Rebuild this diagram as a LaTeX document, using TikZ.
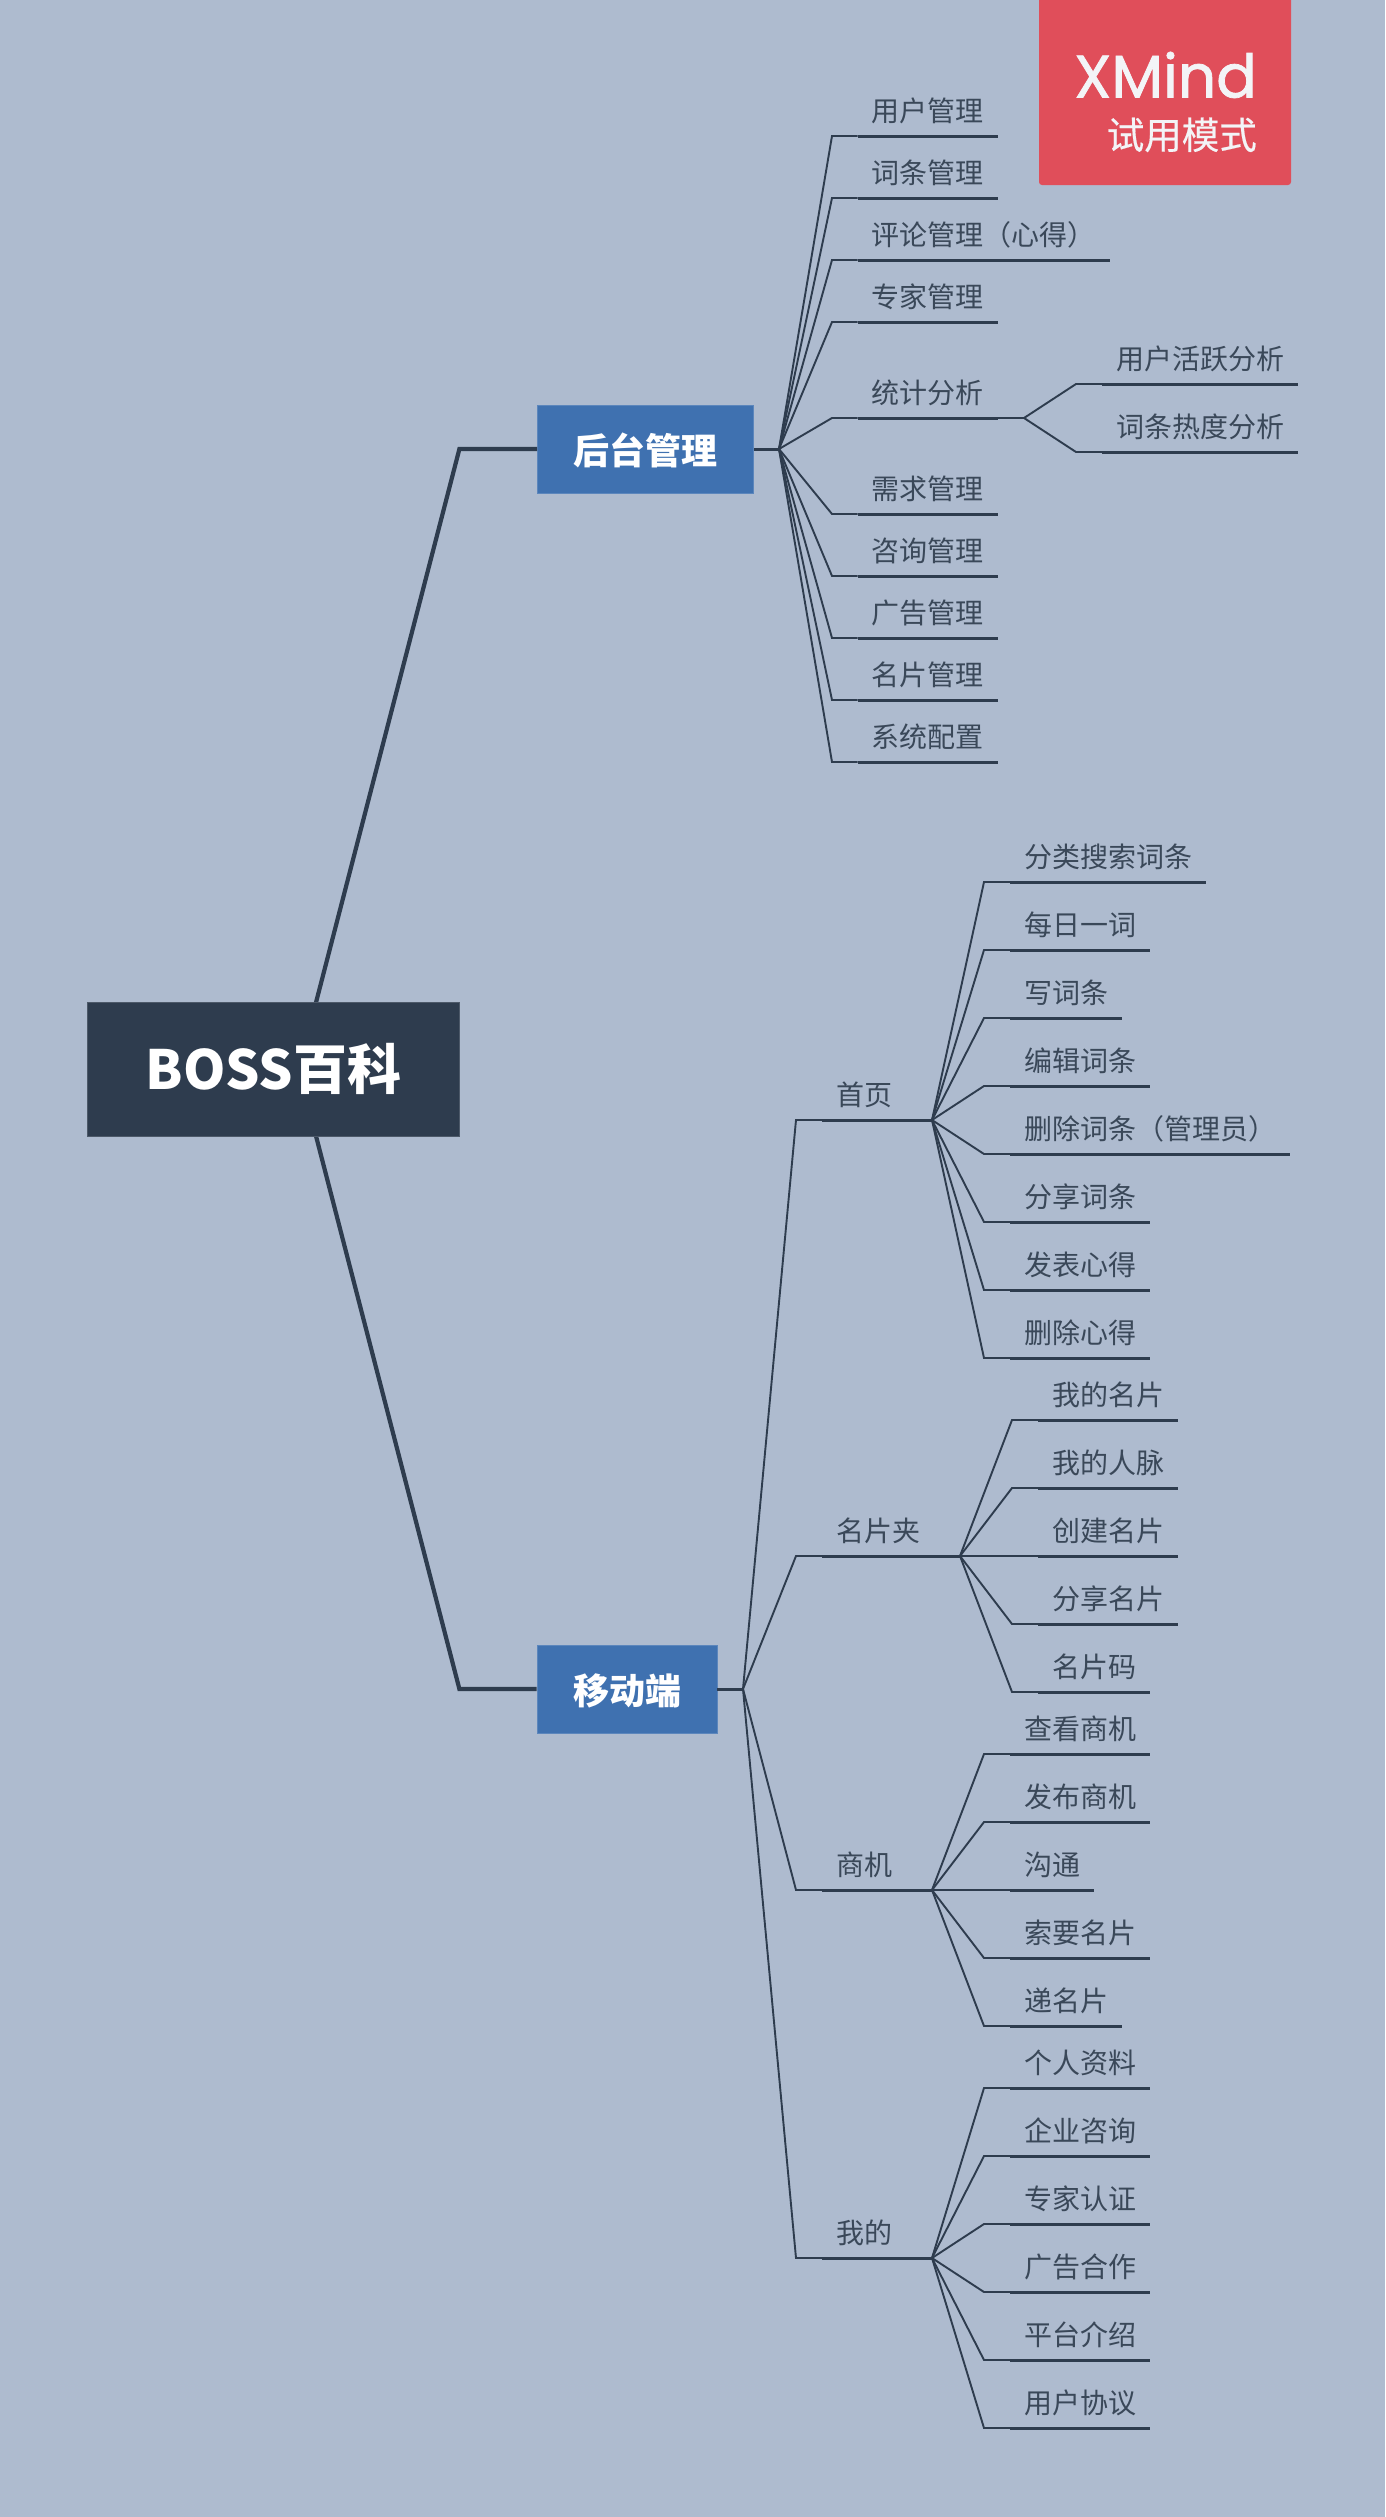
\documentclass[tikz,border=0pt]{standalone}
\usepackage{fontspec}
\setmainfont{Noto Sans CJK SC}
\newfontfamily\xmfont[FakeBold=1.3]{Poppins}
\newfontfamily\trialfont[FakeBold=0.4]{Noto Sans CJK SC}
\definecolor{bgc}{HTML}{AEBBCF}
\definecolor{ink}{HTML}{2E3C4E}
\definecolor{txt}{HTML}{3A4859}
\definecolor{bluebox}{HTML}{3F71B0}
\definecolor{redbox}{HTML}{E04E5A}
\definecolor{logotxt}{HTML}{F3F4F7}
\tikzset{
  rootbox/.style={fill=ink,draw=ink!85!white,line width=0.8pt,minimum width=372pt,minimum height=133.5pt,inner sep=0pt,text=white,font=\fontsize{54}{54}\selectfont\bfseries,text height=39.5pt,text depth=0pt},
  mainbox/.style={fill=bluebox,draw=bluebox!85!white,line width=0.8pt,minimum height=88pt,inner sep=0pt,text=white,font=\fontsize{36}{36}\selectfont\bfseries,text height=31.5pt,text depth=0pt},
  topic/.style={anchor=south west,inner xsep=14pt,inner ysep=0pt,outer sep=0pt,text=txt,font=\fontsize{28}{28}\selectfont,text height=24pt,text depth=14.8pt},
  rootline/.style={draw=ink,line width=4.2pt,line join=miter},
  mainline/.style={draw=ink,line width=3pt},
  thinline/.style={draw=ink,line width=1.9pt,line join=miter},
  thickline/.style={draw=ink,line width=3pt},
}
\newcommand{\lf}[6]{%
  \node[topic] (#2) at (#4,#5) {#6};
  \draw[thinline] (#1) -- (#3,#5) -- (#2.south west);
  \draw[thickline] (#2.south west) -- (#2.south east);
}
\begin{document}
\begin{tikzpicture}[x=1pt,y=-1pt]
\fill[bgc] (0,0) rectangle (1385,2517);
\useasboundingbox (0,0) rectangle (1385,2517);

% root connectors
\coordinate (rt) at (316,1002.5);
\coordinate (rb) at (316,1136);
\coordinate (e1) at (459.4,449);
\coordinate (e2) at (459.4,1689);
\node[mainbox,minimum width=216pt] (back) at (645.6,449) {后台管理};
\node[mainbox,minimum width=180pt] (mob) at (627,1689) {移动端};
\draw[rootline] (rt) -- (e1) -- (back.west);
\draw[rootline] (rb) -- (e2) -- (mob.west);
\node[rootbox] (root) at (273.5,1069.25) {BOSS百科};

% hubs
\coordinate (hb) at (779,449);
\coordinate (hm) at (743,1689);
\draw[mainline] (back.east) -- (hb);
\draw[mainline] (mob.east) -- (hm);

% back-office topics
\lf{hb}{b1}{832}{857.5}{136}{用户管理}
\lf{hb}{b2}{832}{857.5}{198}{词条管理}
\lf{hb}{b3}{832}{857.5}{260}{评论管理（心得）}
\lf{hb}{b4}{832}{857.5}{322}{专家管理}
\lf{hb}{b5}{832}{857.5}{418}{统计分析}
\lf{hb}{b6}{832}{857.5}{514}{需求管理}
\lf{hb}{b7}{832}{857.5}{576}{咨询管理}
\lf{hb}{b8}{832}{857.5}{638}{广告管理}
\lf{hb}{b9}{832}{857.5}{700}{名片管理}
\lf{hb}{b10}{832}{857.5}{762}{系统配置}
\coordinate (hs) at (1024,418);
\draw[thinline] (b5.south east) -- (hs);
\lf{hs}{s1}{1076}{1102}{384}{用户活跃分析}
\lf{hs}{s2}{1076}{1102}{452}{词条热度分析}

% mobile topics
\lf{hm}{m1}{796}{822}{1120}{首页}
\lf{hm}{m2}{796}{822}{1556}{名片夹}
\lf{hm}{m3}{796}{822}{1890}{商机}
\lf{hm}{m4}{796}{822}{2258}{我的}
\coordinate (h1) at (932,1120);
\coordinate (h2) at (960,1556);
\coordinate (h3) at (932,1890);
\coordinate (h4) at (932,2258);
\draw[thickline] (m1.south east) -- (h1);
\draw[thickline] (m2.south east) -- (h2);
\draw[thickline] (m3.south east) -- (h3);
\draw[thickline] (m4.south east) -- (h4);

\lf{h1}{a1}{984}{1010}{882}{分类搜索词条}
\lf{h1}{a2}{984}{1010}{950}{每日一词}
\lf{h1}{a3}{984}{1010}{1018}{写词条}
\lf{h1}{a4}{984}{1010}{1086}{编辑词条}
\lf{h1}{a5}{984}{1010}{1154}{删除词条（管理员）}
\lf{h1}{a6}{984}{1010}{1222}{分享词条}
\lf{h1}{a7}{984}{1010}{1290}{发表心得}
\lf{h1}{a8}{984}{1010}{1358}{删除心得}

\lf{h2}{c1}{1012}{1038}{1420}{我的名片}
\lf{h2}{c2}{1012}{1038}{1488}{我的人脉}
\lf{h2}{c3}{1012}{1038}{1556}{创建名片}
\lf{h2}{c4}{1012}{1038}{1624}{分享名片}
\lf{h2}{c5}{1012}{1038}{1692}{名片码}

\lf{h3}{d1}{984}{1010}{1754}{查看商机}
\lf{h3}{d2}{984}{1010}{1822}{发布商机}
\lf{h3}{d3}{984}{1010}{1890}{沟通}
\lf{h3}{d4}{984}{1010}{1958}{索要名片}
\lf{h3}{d5}{984}{1010}{2026}{递名片}

\lf{h4}{f1}{984}{1010}{2088}{个人资料}
\lf{h4}{f2}{984}{1010}{2156}{企业咨询}
\lf{h4}{f3}{984}{1010}{2224}{专家认证}
\lf{h4}{f4}{984}{1010}{2292}{广告合作}
\lf{h4}{f5}{984}{1010}{2360}{平台介绍}
\lf{h4}{f6}{984}{1010}{2428}{用户协议}

% trial badge
\node[fill=redbox,rounded corners=3pt,minimum width=252pt,minimum height=188pt,inner sep=0pt] (logo) at (1165,91) {};
\node[anchor=base east,inner sep=0pt,text=logotxt,font=\xmfont\fontsize{60}{60}\selectfont] (xm) at (1257,97.5) {XMind};
\node[anchor=base east,inner sep=0pt,text=logotxt,font=\trialfont\fontsize{37.5}{37.5}\selectfont] (trial) at (1257,149) {试用模式};
\end{tikzpicture}
\end{document}
